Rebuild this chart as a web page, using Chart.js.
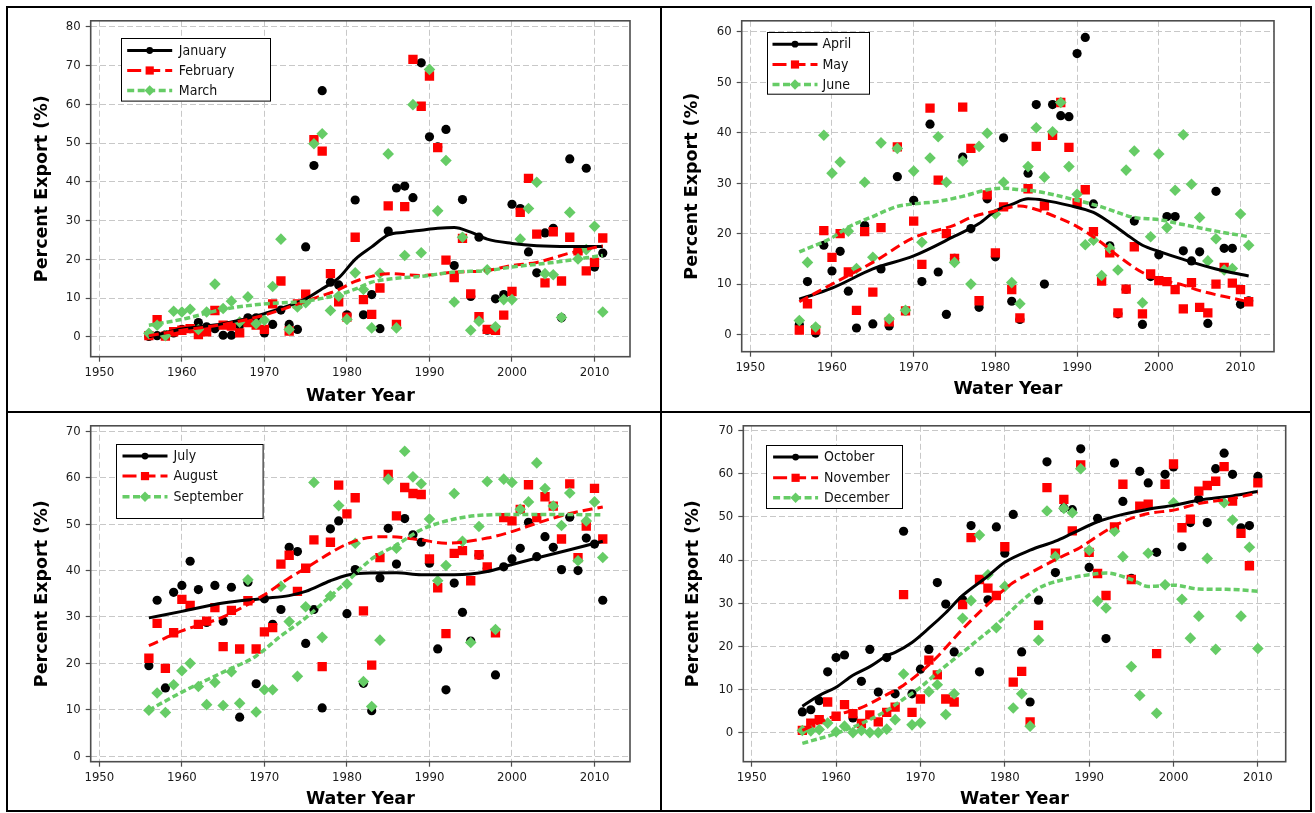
<!DOCTYPE html>
<html>
<head>
<meta charset="utf-8">
<title>Percent Export by Month</title>
<script src="https://cdn.jsdelivr.net/npm/chart.js@4.4.1/dist/chart.umd.min.js"></script>
<style>
  html, body { margin: 0; padding: 0; background: #fff; }
  #wrap { position: relative; width: 1315px; height: 813px; overflow: hidden; background: #fff; }
  .cell { position: absolute; }
  .cell canvas { display: block; }
  .rule { position: absolute; background: #000; }
</style>
</head>
<body>
<div id="wrap">
  <div class="cell" style="left:8px;top:8px;"><canvas id="p1" width="652" height="404"></canvas></div>
  <div class="cell" style="left:662px;top:8px;"><canvas id="p2" width="648" height="404"></canvas></div>
  <div class="cell" style="left:8px;top:413px;"><canvas id="p3" width="652" height="397"></canvas></div>
  <div class="cell" style="left:662px;top:413px;"><canvas id="p4" width="648" height="397"></canvas></div>
  <div class="rule" style="left:6px;top:6px;width:1306px;height:2px;"></div>
  <div class="rule" style="left:6px;top:810px;width:1306px;height:2px;"></div>
  <div class="rule" style="left:6px;top:6px;width:2px;height:806px;"></div>
  <div class="rule" style="left:1310px;top:6px;width:2px;height:806px;"></div>
  <div class="rule" style="left:660px;top:6px;width:2px;height:806px;"></div>
  <div class="rule" style="left:6px;top:411px;width:1306px;height:2px;"></div>
</div>
<script>
// ---- Water years ----
const WATER_YEARS = [1956,1957,1958,1959,1960,1961,1962,1963,1964,1965,1966,1967,1968,1969,1970,
  1971,1972,1973,1974,1975,1976,1977,1978,1979,1980,1981,1982,1983,1984,1985,1986,1987,1988,1989,
  1990,1991,1992,1993,1994,1995,1996,1997,1998,1999,2000,2001,2002,2003,2004,2005,2006,2007,2008,
  2009,2010,2011];
const WATER_YEARS_OND = [1956,1957,1958,1959,1960,1961,1962,1963,1964,1965,1966,1967,1968,1969,1970,
  1971,1972,1973,1974,1975,1976,1977,1978,1979,1980,1981,1982,1983,1984,1985,1986,1987,1988,1989,
  1990,1991,1992,1993,1994,1995,1996,1997,1998,1999,2000,2001,2002,2003,2004,2005,2006,2007,2008,
  2009,2010];

// ---- Tick labels ----
const X_TICKS = [1950, 1960, 1970, 1980, 1990, 2000, 2010];
const Y_TICKS_JFM = [0, 10, 20, 30, 40, 50, 60, 70, 80];
const Y_TICKS_AMJ = [0, 10, 20, 30, 40, 50, 60];
const Y_TICKS_JAS = [0, 10, 20, 30, 40, 50, 60, 70];
const Y_TICKS_OND = [0, 10, 20, 30, 40, 50, 60, 70];

// ---- Monthly percent export (%) ----
const january = [0.1,0.3,0.5,1.0,1.9,2.1,3.7,2.6,2.1,0.4,0.4,3.0,4.9,4.9,1.0,3.2,6.9,3.2,1.9,23.2,
  44.2,63.5,14.1,13.4,5.7,35.3,5.7,10.9,2.1,27.3,38.4,38.9,35.9,70.7,51.6,49.0,53.5,18.4,35.4,10.4,
  25.7,1.7,9.8,10.9,34.2,33.1,21.9,16.5,26.8,28.0,4.9,45.9,22.0,43.5,18.0,21.6];
const february = [0.3,4.4,0.2,1.3,1.7,2.1,0.6,1.3,6.8,3.0,2.8,1.0,3.7,3.0,1.9,8.5,14.4,1.5,8.5,11.0,
  50.9,47.9,16.3,9.0,5.1,25.7,9.6,5.8,12.6,33.8,3.2,33.6,71.6,59.5,67.3,48.8,19.8,15.3,25.4,11.1,
  5.2,1.9,1.7,5.6,11.7,32.1,40.9,26.5,13.9,27.1,14.4,25.7,22.2,17.0,19.2,25.5];
const march = [0.9,3.0,0.3,6.6,6.4,7.1,1.9,6.4,13.6,7.3,9.2,3.8,10.3,3.4,4.3,13.0,25.2,1.9,7.7,8.8,
  49.8,52.4,6.8,10.5,4.5,16.5,12.2,2.3,16.4,47.2,2.3,21.0,59.9,21.7,69.0,32.5,45.5,9.0,25.7,1.7,
  4.0,17.3,2.6,9.6,9.6,25.2,33.1,39.9,16.3,16.0,5.0,32.1,20.1,22.5,28.5,6.4];

const april = [2.0,10.5,0.3,17.7,12.6,16.5,8.6,1.3,21.6,2.1,13.0,1.7,31.3,4.7,26.6,10.5,41.7,12.4,4.0,15.1,
  35.2,21.0,5.4,26.9,15.4,39.0,6.6,3.0,32.0,45.6,10.0,45.6,43.4,43.2,55.7,58.9,25.9,11.0,17.6,4.1,
  9.0,22.5,2.0,11.5,15.8,23.4,23.4,16.6,14.6,16.4,2.2,28.4,17.1,17.1,6.0,6.7];
const may = [0.9,6.1,0.9,20.6,15.3,20.0,12.4,4.8,20.4,8.4,21.2,2.5,37.2,4.7,22.5,13.9,44.9,30.6,20.0,15.1,
  45.1,36.9,6.7,27.7,16.2,25.3,8.9,3.3,28.9,37.3,25.5,39.5,46.0,37.1,26.1,28.7,20.4,10.6,16.2,4.3,
  9.0,17.4,4.1,12.0,10.7,10.5,8.9,5.1,10.3,5.4,4.3,10.0,13.3,10.2,8.9,6.5];
const june = [2.8,14.3,1.5,39.5,32.0,34.2,20.5,13.1,30.2,15.3,38.0,3.1,36.9,4.8,32.4,18.3,35.0,39.2,30.2,14.3,
  34.4,10.0,37.3,39.9,23.9,30.2,10.3,6.1,33.3,41.0,31.2,40.2,46.0,33.3,27.8,17.8,18.7,11.7,17.1,12.8,
  32.6,36.4,6.3,19.4,35.8,21.2,28.6,39.6,29.8,23.2,14.6,19.0,12.8,13.1,23.9,17.7];

const july = [19.5,33.6,14.7,35.3,36.8,42.0,35.9,28.8,36.8,29.1,36.4,8.4,37.5,15.6,33.9,28.4,31.6,45.0,44.1,24.3,
  31.6,10.4,49.0,50.7,30.7,40.2,15.7,9.8,38.4,49.1,41.4,51.2,47.7,46.1,41.6,23.1,14.3,37.3,31.0,24.8,
  43.3,40.5,17.5,40.8,42.5,44.8,50.4,43.0,47.3,45.0,40.2,51.5,40.0,47.0,45.7,33.6];
const august = [21.1,28.6,18.9,26.6,33.8,32.5,28.4,29.1,32.0,23.6,31.4,23.1,33.5,23.1,26.8,27.7,41.4,43.3,35.5,40.5,
  46.6,19.3,46.1,58.4,52.2,55.7,31.3,19.6,42.8,60.7,51.8,57.9,56.6,56.4,42.5,36.3,26.4,43.7,44.3,37.8,
  43.4,40.8,26.6,51.4,50.7,53.2,58.5,51.4,55.9,53.9,46.8,58.7,42.8,49.6,57.7,46.8];
const september = [9.9,13.6,9.4,15.4,18.4,20.0,15.0,11.1,15.9,10.9,18.2,11.4,38.0,9.5,14.3,14.3,36.6,29.0,17.2,32.2,
  59.0,25.6,34.5,54.0,37.1,45.9,16.1,10.7,25.0,59.7,44.8,65.7,60.2,58.7,51.1,37.8,41.1,56.6,46.3,24.5,
  49.5,59.2,27.3,59.7,59.0,53.2,54.8,63.2,57.7,53.9,49.7,56.7,42.1,50.7,54.8,42.8];

const october = [4.8,5.3,7.4,14.1,17.4,18.0,3.4,11.9,19.3,9.4,17.4,9.0,46.7,9.0,14.7,19.3,34.8,29.8,18.7,30.8,
  48.0,14.1,30.8,47.7,41.6,50.6,18.7,7.1,30.7,62.8,37.1,52.1,51.7,65.8,38.3,49.7,21.8,62.5,53.6,35.8,
  60.6,57.9,41.8,59.9,61.6,43.1,48.7,54.1,48.7,61.2,64.8,59.9,47.5,48.0,59.4];
const november = [0.5,2.2,3.0,7.1,3.8,6.5,4.4,2.1,4.1,2.5,4.7,5.9,32.0,4.7,7.8,16.8,13.4,7.8,7.1,29.7,
  45.2,35.5,33.5,31.8,43.1,11.7,14.2,2.5,24.9,56.8,41.6,54.1,46.8,62.1,41.8,36.9,31.8,47.7,57.6,35.5,
  52.5,53.0,18.3,57.6,62.3,47.5,49.5,56.0,57.3,58.3,61.7,53.7,46.2,38.7,57.9];
const december = [0.5,0.4,0.7,2.2,0.2,1.5,0.0,0.5,0.0,0.0,0.8,3.0,13.6,1.8,2.3,9.5,11.1,4.2,9.0,26.5,
  30.6,45.8,36.6,24.3,33.9,5.7,9.0,1.5,21.4,51.4,40.8,52.0,51.0,61.2,42.3,30.5,28.9,46.7,40.8,15.3,
  8.6,41.6,4.5,34.3,53.3,30.9,21.9,27.0,40.4,19.3,53.3,49.3,27.0,43.0,19.5];

// ---- Smoothed trends (years, fitted %) ----
const janFitYears = [1956,1960,1965,1970,1975,1977,1979,1981,1983,1985,1987,1989,1991,1993,1995,1997,2000,2003,2007,2011];
const janFit      = [0.0, 2.0, 3.4, 6.0, 9.8,12.4,15.2,20.0,23.2,26.3,27.0,27.5,28.0,28.2,27.0,25.2,24.1,23.5,23.3,23.3];
const febFitYears = [1956,1960,1965,1970,1975,1979,1981,1983,1985,1989,1993,1997,2000,2003,2007,2011];
const febFit      = [0.3, 1.7, 3.2, 5.6, 9.2,12.2,14.3,15.6,16.3,15.8,16.7,17.1,18.4,19.2,21.6,23.5];
const marFitYears = [1956,1960,1965,1970,1975,1979,1981,1983,1986,1989,1993,1997,2000,2005,2011];
const marFit      = [3.0, 4.5, 7.1, 8.5, 9.2,10.9,12.3,14.1,15.1,15.6,16.7,17.1,18.0,19.2,21.0];

const aprFitYears = [1956,1960,1965,1970,1975,1978,1980,1982,1984,1986,1989,1992,1994,1996,1998,2000,2003,2007,2011];
const aprFit      = [7.0, 9.2,13.0,15.6,19.5,22.0,24.5,25.8,26.9,26.6,25.6,24.2,22.2,19.9,17.7,16.5,14.9,13.0,11.6];
const mayFitYears = [1956,1960,1965,1970,1975,1977,1980,1983,1985,1987,1990,1993,1995,1998,2000,2003,2005,2009,2011];
const mayFit      = [6.5,10.0,14.3,19.2,21.7,23.2,24.5,25.5,24.8,23.6,21.4,18.2,15.6,12.3,11.0, 9.8, 8.7, 7.2, 6.5];
const junFitYears = [1956,1960,1962,1965,1968,1970,1973,1976,1979,1981,1983,1985,1989,1993,1997,2000,2003,2007,2011];
const junFit      = [16.4,19.2,21.3,23.4,25.4,25.9,26.4,27.4,28.7,29.0,28.7,28.4,27.0,25.3,23.2,22.8,21.8,20.5,19.4];

const julFitYears = [1956,1960,1965,1970,1973,1975,1978,1980,1982,1986,1989,1993,1997,2000,2003,2007,2011];
const julFit      = [29.8,31.2,33.0,34.0,34.6,35.5,37.8,39.0,39.4,39.5,39.1,39.1,39.8,41.3,42.7,44.5,46.3];
const augFitYears = [1956,1960,1965,1970,1973,1975,1978,1980,1983,1985,1989,1992,1997,2000,2003,2007,2011];
const augFit      = [23.8,27.0,30.0,34.8,38.4,40.5,43.8,45.7,47.2,47.3,46.6,45.9,47.0,48.4,50.2,52.3,53.7];
const sepFitYears = [1956,1960,1965,1969,1972,1975,1978,1980,1983,1986,1989,1993,1997,2001,2005,2011];
const sepFit      = [9.9,13.8,18.1,21.6,25.9,29.8,34.5,37.6,42.5,45.5,48.8,51.1,52.0,52.1,52.1,52.0];

const octFitYears = [1956,1958,1960,1962,1964,1966,1967,1969,1971,1973,1975,1978,1980,1983,1986,1988,1991,1994,1997,2000,2003,2007,2010];
const octFit      = [6.1, 8.6,10.5,13.3,15.3,17.8,18.6,20.9,24.2,27.8,31.8,36.3,39.5,42.3,44.4,46.2,48.9,50.6,51.8,52.7,53.9,54.9,55.9];
const novFitYears = [1956,1960,1963,1966,1968,1970,1972,1975,1978,1981,1983,1986,1989,1991,1994,1997,2000,2003,2007,2010];
const novFit      = [0.5, 4.0, 5.8, 8.8,11.0,14.0,17.6,24.0,29.8,34.8,37.0,40.1,43.0,45.6,48.9,50.8,51.6,53.1,54.3,55.6];
const decFitYears = [1956,1960,1963,1966,1968,1970,1972,1975,1977,1979,1982,1984,1987,1990,1992,1995,1997,2000,2003,2007,2010];
const decFit      = [-2.5,-0.2,2.1,5.1,7.8,10.5,13.9,18.6,21.8,25.0,30.5,33.5,35.5,36.6,37.0,35.5,33.9,34.2,33.3,33.2,32.8];

// ---- Styling ----
const TICK_FONT = { family: "'DejaVu Sans Condensed', 'DejaVu Sans', sans-serif", size: 13 };
const TITLE_FONT = { family: "'DejaVu Sans', sans-serif", size: 17.5, weight: 'bold', lineHeight: 1.2 };
const LEGEND_FONT = "14px 'DejaVu Sans Condensed', 'DejaVu Sans', sans-serif";
const BLACK = '#000000', RED = '#ff0000', GREEN = '#66cc66';
const SERIES_STYLE = [
  { color: BLACK, marker: 'circle',  radius: 4.6, dash: [],      legendDash: [],       lineWidth: 3 },
  { color: RED,   marker: 'rect',    radius: 6.6, dash: [10, 5], legendDash: [14, 5],  lineWidth: 3 },
  { color: GREEN, marker: 'rectRot', radius: 5.8, dash: [6, 3],  legendDash: [7, 3.5], lineWidth: 3.5 }
];

function pairs(xs, ys) { return xs.map((x, i) => ({ x: x, y: ys[i] })); }
function plainLabel(value) { return String(value); }

// Plot frame drawn on all four sides of the chart area
const plotFrame = {
  id: 'plotFrame',
  afterDraw(chart) {
    const { ctx, chartArea: a } = chart;
    ctx.save();
    ctx.strokeStyle = '#4d4d4d';
    ctx.lineWidth = 1.6;
    ctx.strokeRect(a.left, a.top, a.right - a.left, a.bottom - a.top);
    ctx.restore();
  }
};

function drawMarker(ctx, kind, x, y, r) {
  ctx.beginPath();
  if (kind === 'circle') {
    ctx.arc(x, y, r, 0, Math.PI * 2);
  } else if (kind === 'rect') {
    const s = r * Math.SQRT1_2;
    ctx.rect(x - s, y - s, 2 * s, 2 * s);
  } else {
    ctx.moveTo(x - r, y); ctx.lineTo(x, y - r); ctx.lineTo(x + r, y); ctx.lineTo(x, y + r);
    ctx.closePath();
  }
  ctx.fill();
}

// Boxed legend inside the plot area: line sample with a marker, then the month name
const boxedLegend = {
  id: 'boxedLegend',
  afterDraw(chart, args, o) {
    if (!o || !o.items) return;
    const { ctx, chartArea: a } = chart;
    const x0 = Math.round(a.left + o.dx) + 0.5, y0 = Math.round(a.top + o.dy) + 0.5;
    ctx.save();
    ctx.fillStyle = '#fff';
    ctx.fillRect(x0, y0, o.w, o.h);
    ctx.strokeStyle = '#000';
    ctx.lineWidth = 1;
    ctx.strokeRect(x0, y0, o.w, o.h);
    o.items.forEach((label, i) => {
      const st = SERIES_STYLE[i];
      const y = y0 + o.rows[i];
      ctx.strokeStyle = st.color;
      ctx.lineWidth = st.lineWidth;
      ctx.setLineDash(st.legendDash);
      ctx.beginPath();
      ctx.moveTo(x0 + o.lineX[0], y);
      ctx.lineTo(x0 + o.lineX[1], y);
      ctx.stroke();
      ctx.setLineDash([]);
      ctx.fillStyle = st.color;
      const mx = x0 + (o.lineX[0] + o.lineX[1]) / 2;
      drawMarker(ctx, st.marker, mx, y, i === 0 ? 3.4 : (i === 1 ? 5.8 : 5.2));
      ctx.fillStyle = '#111';
      ctx.font = LEGEND_FONT;
      ctx.textBaseline = 'middle';
      ctx.textAlign = 'left';
      ctx.fillText(label, x0 + o.textX, y + 0.5);
    });
    ctx.restore();
  }
};

function makePanel(p) {
  const datasets = [];
  // scatter points: black below red below green
  p.series.forEach((s, i) => {
    const st = SERIES_STYLE[i];
    datasets.push({
      label: s.name,
      data: pairs(p.years, s.values),
      showLine: false,
      pointStyle: st.marker,
      pointRadius: st.radius,
      pointHoverRadius: st.radius,
      pointBackgroundColor: st.color,
      pointBorderWidth: 0,
      order: 6 - i
    });
  });
  // smoothed trend lines on top
  p.series.forEach((s, i) => {
    const st = SERIES_STYLE[i];
    datasets.push({
      label: s.name + ' trend',
      data: pairs(s.fitYears, s.fit),
      showLine: true,
      borderColor: st.color,
      borderWidth: st.lineWidth,
      borderDash: st.dash,
      borderCapStyle: 'butt',
      cubicInterpolationMode: 'monotone',
      pointRadius: 0,
      pointHoverRadius: 0,
      fill: false,
      order: 3 - i
    });
  });

  const canvas = document.getElementById(p.id);
  const W = canvas.width, H = canvas.height;
  new Chart(canvas, {
    type: 'scatter',
    data: { datasets: datasets },
    options: {
      responsive: false,
      animation: false,
      devicePixelRatio: 1,
      events: [],
      layout: { padding: { left: 0, bottom: 0, top: p.area.t, right: W - p.area.r } },
      plugins: {
        legend: { display: false },
        tooltip: { enabled: false },
        boxedLegend: p.legend
      },
      scales: {
        x: {
          type: 'linear',
          min: p.xRange[0], max: p.xRange[1],
          afterBuildTicks: (sc) => { sc.ticks = X_TICKS.map(v => ({ value: v })); },
          afterFit: (sc) => { sc.height = H - p.area.b; },
          ticks: { font: TICK_FONT, color: '#1a1a1a', padding: 3, maxRotation: 0, autoSkip: false,
                   callback: plainLabel },
          grid: { color: '#c8c8c8', lineWidth: 1, drawTicks: true, tickLength: 5,
                  tickColor: '#4d4d4d', tickWidth: 1.2, tickBorderDash: [] },
          border: { display: false, dash: [6, 3] },
          title: { display: true, text: 'Water Year', color: '#000', font: TITLE_FONT,
                   padding: { top: 0, bottom: p.xTitlePad } }
        },
        y: {
          type: 'linear',
          min: p.yRange[0], max: p.yRange[1],
          afterBuildTicks: (sc) => { sc.ticks = p.yTicks.map(v => ({ value: v })); },
          afterFit: (sc) => { sc.width = p.area.l; },
          ticks: { font: TICK_FONT, color: '#1a1a1a', padding: 5, autoSkip: false,
                   callback: plainLabel },
          grid: { color: '#c8c8c8', lineWidth: 1, drawTicks: true, tickLength: 5,
                  tickColor: '#4d4d4d', tickWidth: 1.2, tickBorderDash: [] },
          border: { display: false, dash: [6, 3] },
          title: { display: true, text: 'Percent Export (%)', color: '#000', font: TITLE_FONT,
                   padding: { top: p.yTitlePad, bottom: 0 } }
        }
      }
    },
    plugins: [plotFrame, boxedLegend]
  });
}

makePanel({
  id: 'p1', years: WATER_YEARS, yTicks: Y_TICKS_JFM,
  xRange: [1948.95, 2014.3], yRange: [-5.13, 81.54],
  area: { l: 82.7, t: 11, r: 622, b: 348.7 }, xTitlePad: 5.5, yTitlePad: 23.5,
  legend: { dx: 30.3, dy: 16.7, w: 149, h: 62.6, rows: [12, 32, 52], lineX: [5.7, 50.7], textX: 57.3,
            items: ['January', 'February', 'March'] },
  series: [
    { name: 'January',  values: january,  fitYears: janFitYears, fit: janFit },
    { name: 'February', values: february, fitYears: febFitYears, fit: febFit },
    { name: 'March',    values: march,    fitYears: marFitYears, fit: marFit }
  ]
});

makePanel({
  id: 'p2', years: WATER_YEARS, yTicks: Y_TICKS_AMJ,
  xRange: [1948.95, 2014.1], yRange: [-3.4, 62.2],
  area: { l: 79.7, t: 9.7, r: 612, b: 343.7 }, xTitlePad: 12.5, yTitlePad: 19.5,
  legend: { dx: 25, dy: 11.3, w: 102, h: 61.7, rows: [11.7, 32, 52], lineX: [5, 50], textX: 55,
            items: ['April', 'May', 'June'] },
  series: [
    { name: 'April', values: april, fitYears: aprFitYears, fit: aprFit },
    { name: 'May',   values: may,   fitYears: mayFitYears, fit: mayFit },
    { name: 'June',  values: june,  fitYears: junFitYears, fit: junFit }
  ]
});

makePanel({
  id: 'p3', years: WATER_YEARS, yTicks: Y_TICKS_JAS,
  xRange: [1948.95, 2014.3], yRange: [-1.2, 71.2],
  area: { l: 82.7, t: 11, r: 622, b: 348.7 }, xTitlePad: 0, yTitlePad: 23.5,
  legend: { dx: 25, dy: 17.7, w: 146.6, h: 74, rows: [11.6, 31.6, 52.3], lineX: [6, 51], textX: 57,
            items: ['July', 'August', 'September'] },
  series: [
    { name: 'July',      values: july,      fitYears: julFitYears, fit: julFit },
    { name: 'August',    values: august,    fitYears: augFitYears, fit: augFit },
    { name: 'September', values: september, fitYears: sepFitYears, fit: sepFit }
  ]
});

makePanel({
  id: 'p4', years: WATER_YEARS_OND, yTicks: Y_TICKS_OND,
  xRange: [1949.0, 2013.3], yRange: [-6.75, 71.15],
  area: { l: 81.3, t: 10.3, r: 623.7, b: 348.7 }, xTitlePad: 0, yTitlePad: 20.5,
  legend: { dx: 22.4, dy: 19.4, w: 136, h: 63, rows: [11.6, 32.3, 52.3], lineX: [6.6, 51.6], textX: 57.6,
            items: ['October', 'November', 'December'] },
  series: [
    { name: 'October',  values: october,  fitYears: octFitYears, fit: octFit },
    { name: 'November', values: november, fitYears: novFitYears, fit: novFit },
    { name: 'December', values: december, fitYears: decFitYears, fit: decFit }
  ]
});
</script>
</body>
</html>
